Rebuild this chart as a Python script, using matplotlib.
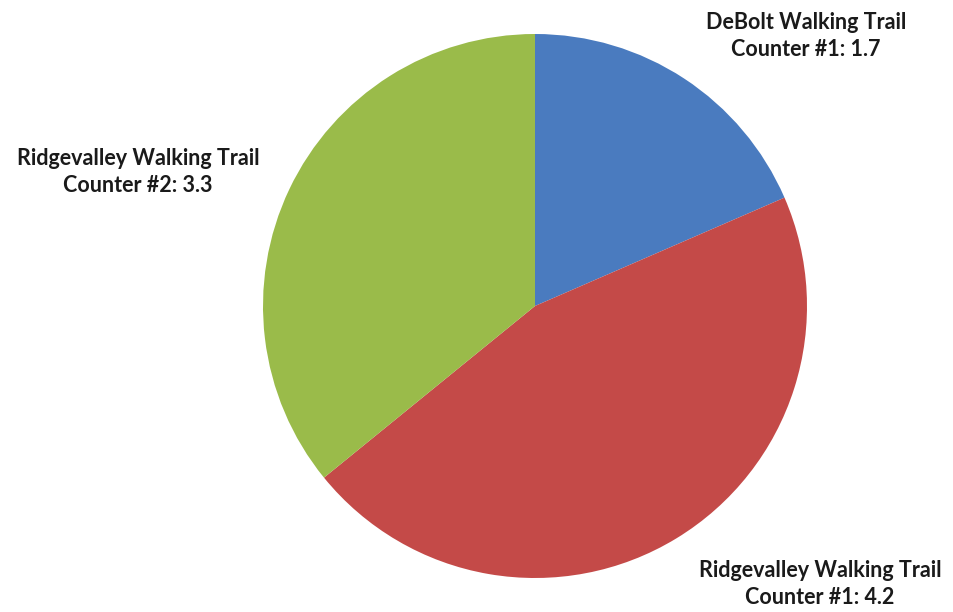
import matplotlib
matplotlib.use("Agg")
import matplotlib.pyplot as plt

# Trail counter readings
trails = ["DeBolt Walking Trail", "Ridgevalley Walking Trail", "Ridgevalley Walking Trail"]
counters = ["Counter #1", "Counter #1", "Counter #2"]
values = [1.7, 4.2, 3.3]
colors = ["#4a7bbf", "#c44a48", "#9abb4a"]

W, H = 954, 612
fig = plt.figure(figsize=(W / 100, H / 100), dpi=100)
ax = fig.add_axes([0, 0, 1, 1])

ax.pie(values, colors=colors, startangle=90, counterclock=False,
       center=(535, H - 306), radius=272,
       wedgeprops=dict(linewidth=0), frame=True)
ax.set_xlim(0, W)
ax.set_ylim(0, H)
ax.set_aspect("equal")
ax.axis("off")

# Label anchor points (pixel coordinates, origin top-left)
label_pos = [(806, 36), (820, 584), (138, 172)]
for trail, counter, v, (x, y) in zip(trails, counters, values, label_pos):
    ax.text(x, H - y, f"{trail}\n{counter}: {v}", ha="center", va="center",
            fontsize=15.5, fontweight="bold", family="Lato", color="#1a1a1a",
            linespacing=1.4)

fig.savefig("out.png", dpi=100)
